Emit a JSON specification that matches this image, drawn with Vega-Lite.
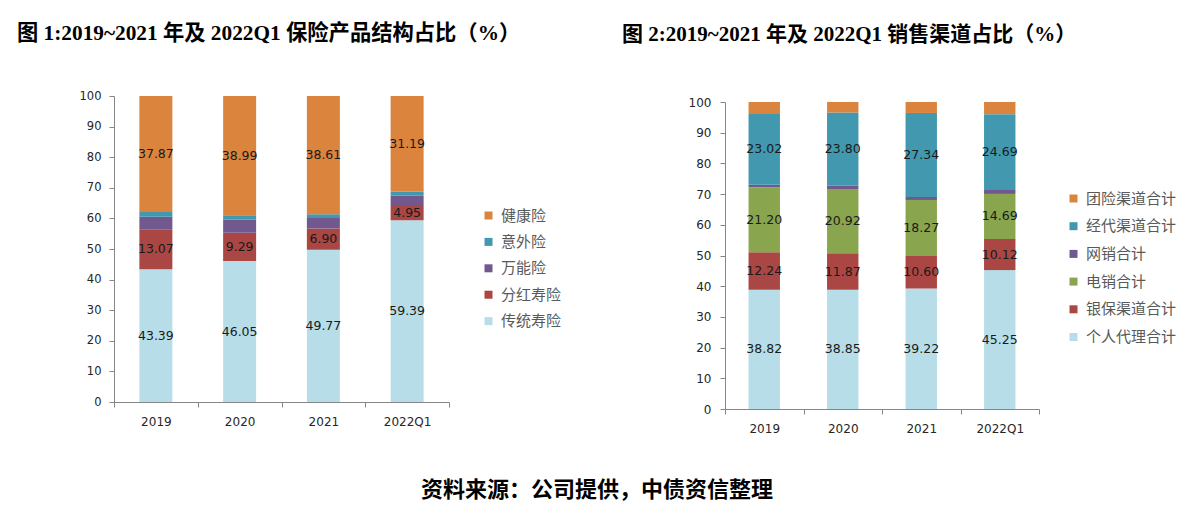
{
  "$schema": "https://vega.github.io/schema/vega-lite/v6.json",
  "padding": {"left": 17, "top": 23, "right": 5, "bottom": 5},
  "bounds": "flush",
  "spacing": 276,
  "config": {
    "view": {"stroke": null},
    "axis": {
      "domainColor": "#868686",
      "tickColor": "#868686",
      "tickSize": 5,
      "grid": false,
      "labelFont": "DejaVu Sans",
      "labelFontSize": 12,
      "labelColor": "#262626",
      "labelOverlap": false,
      "title": null
    },
    "legend": {
      "orient": "none",
      "title": null,
      "symbolType": "square",
      "symbolSize": 64,
      "symbolStrokeWidth": 0,
      "labelFont": "Noto Sans CJK SC",
      "labelFontSize": 15,
      "labelColor": "#595959",
      "labelOffset": 5,
      "padding": 0
    }
  },
  "title": {
    "text": "资料来源：公司提供，中债资信整理",
    "orient": "bottom",
    "anchor": "middle",
    "font": "Noto Sans CJK SC",
    "fontSize": 22,
    "fontWeight": "bold",
    "color": "#000000",
    "offset": 46
  },
  "hconcat": [
    {
      "width": 335,
      "height": 306,
      "title": {
        "text": "图 1:2019~2021 年及 2022Q1 保险产品结构占比（%）",
        "anchor": "start",
        "frame": "group",
        "dx": -97,
        "offset": 45.5,
        "font": "Liberation Serif, Noto Sans CJK SC",
        "fontSize": 21.3,
        "fontWeight": "bold",
        "color": "#000000"
      },
      "data": {
        "values": [
          {"year": "2019", "s": "传统寿险", "v": 43.39},
          {"year": "2019", "s": "分红寿险", "v": 13.07},
          {"year": "2019", "s": "万能险", "v": 4.10},
          {"year": "2019", "s": "意外险", "v": 1.57},
          {"year": "2019", "s": "健康险", "v": 37.87},
          {"year": "2020", "s": "传统寿险", "v": 46.05},
          {"year": "2020", "s": "分红寿险", "v": 9.29},
          {"year": "2020", "s": "万能险", "v": 4.20},
          {"year": "2020", "s": "意外险", "v": 1.47},
          {"year": "2020", "s": "健康险", "v": 38.99},
          {"year": "2021", "s": "传统寿险", "v": 49.77},
          {"year": "2021", "s": "分红寿险", "v": 6.90},
          {"year": "2021", "s": "万能险", "v": 3.45},
          {"year": "2021", "s": "意外险", "v": 1.27},
          {"year": "2021", "s": "健康险", "v": 38.61},
          {"year": "2022Q1", "s": "传统寿险", "v": 59.39},
          {"year": "2022Q1", "s": "分红寿险", "v": 4.95},
          {"year": "2022Q1", "s": "万能险", "v": 3.10},
          {"year": "2022Q1", "s": "意外险", "v": 1.37},
          {"year": "2022Q1", "s": "健康险", "v": 31.19}
        ]
      },
      "transform": [
        {"calculate": "indexof(['传统寿险','分红寿险','万能险','意外险','健康险'], datum.s)", "as": "o"},
        {"stack": "v", "groupby": ["year"], "sort": [{"field": "o", "order": "ascending"}], "as": ["v0", "v1"]},
        {"calculate": "(datum.v0 + datum.v1) / 2", "as": "mid"}
      ],
      "layer": [
        {
          "mark": {"type": "bar", "width": {"band": 0.394}},
          "encoding": {
            "x": {
              "field": "year", "type": "nominal", "sort": null,
              "scale": {"paddingInner": 0, "paddingOuter": 0},
              "axis": {"tickBand": "extent", "labelAngle": 0, "labelPadding": 9}
            },
            "y": {
              "field": "v0", "type": "quantitative",
              "scale": {"domain": [0, 100], "nice": false},
              "axis": {"values": [0, 10, 20, 30, 40, 50, 60, 70, 80, 90, 100], "tickCount": 11, "labelOverlap": false, "labelPadding": 8, "labelFontSize": 11.5}
            },
            "y2": {"field": "v1"},
            "color": {
              "field": "s", "type": "nominal",
              "scale": {
                "domain": ["健康险", "意外险", "万能险", "分红寿险", "传统寿险"],
                "range": ["#DB843D", "#4198AF", "#71588F", "#AA4643", "#B7DEE8"]
              },
              "legend": {"legendX": 367, "legendY": 112, "rowPadding": 10.4}
            }
          }
        },
        {
          "transform": [{"filter": "indexof(['传统寿险','分红寿险','健康险'], datum.s) >= 0"}],
          "mark": {"type": "text", "font": "DejaVu Sans", "fontSize": 12.5, "color": "#1a1a1a"},
          "encoding": {
            "x": {"field": "year", "type": "nominal", "sort": null, "axis": {"tickBand": "extent", "labelAngle": 0, "labelPadding": 9}},
            "y": {"field": "mid", "type": "quantitative",
              "axis": {"values": [0, 10, 20, 30, 40, 50, 60, 70, 80, 90, 100], "tickCount": 11, "labelOverlap": false, "labelPadding": 8, "labelFontSize": 11.5}},
            "text": {"field": "v", "type": "quantitative", "format": ".2f"}
          }
        }
      ]
    },
    {
      "width": 314,
      "height": 313,
      "title": {
        "text": "图 2:2019~2021 年及 2022Q1 销售渠道占比（%）",
        "anchor": "start",
        "frame": "group",
        "dx": -103,
        "offset": 51.5,
        "font": "Liberation Serif, Noto Sans CJK SC",
        "fontSize": 21,
        "fontWeight": "bold",
        "color": "#000000"
      },
      "data": {
        "values": [
          {"year": "2019", "s": "个人代理合计", "v": 38.82},
          {"year": "2019", "s": "银保渠道合计", "v": 12.24},
          {"year": "2019", "s": "电销合计", "v": 21.20},
          {"year": "2019", "s": "网销合计", "v": 0.80},
          {"year": "2019", "s": "经代渠道合计", "v": 23.02},
          {"year": "2019", "s": "团险渠道合计", "v": 3.92},
          {"year": "2020", "s": "个人代理合计", "v": 38.85},
          {"year": "2020", "s": "银保渠道合计", "v": 11.87},
          {"year": "2020", "s": "电销合计", "v": 20.92},
          {"year": "2020", "s": "网销合计", "v": 1.10},
          {"year": "2020", "s": "经代渠道合计", "v": 23.80},
          {"year": "2020", "s": "团险渠道合计", "v": 3.46},
          {"year": "2021", "s": "个人代理合计", "v": 39.22},
          {"year": "2021", "s": "银保渠道合计", "v": 10.60},
          {"year": "2021", "s": "电销合计", "v": 18.27},
          {"year": "2021", "s": "网销合计", "v": 1.00},
          {"year": "2021", "s": "经代渠道合计", "v": 27.34},
          {"year": "2021", "s": "团险渠道合计", "v": 3.57},
          {"year": "2022Q1", "s": "个人代理合计", "v": 45.25},
          {"year": "2022Q1", "s": "银保渠道合计", "v": 10.12},
          {"year": "2022Q1", "s": "电销合计", "v": 14.69},
          {"year": "2022Q1", "s": "网销合计", "v": 1.30},
          {"year": "2022Q1", "s": "经代渠道合计", "v": 24.69},
          {"year": "2022Q1", "s": "团险渠道合计", "v": 3.95}
        ]
      },
      "transform": [
        {"calculate": "indexof(['个人代理合计','银保渠道合计','电销合计','网销合计','经代渠道合计','团险渠道合计'], datum.s)", "as": "o"},
        {"stack": "v", "groupby": ["year"], "sort": [{"field": "o", "order": "ascending"}], "as": ["v0", "v1"]},
        {"calculate": "(datum.v0 + datum.v1) / 2", "as": "mid"}
      ],
      "layer": [
        {
          "mark": {"type": "bar", "width": {"band": 0.4}},
          "encoding": {
            "x": {
              "field": "year", "type": "nominal", "sort": null,
              "scale": {"paddingInner": 0, "paddingOuter": 0},
              "axis": {"tickBand": "extent", "labelAngle": 0, "labelPadding": 9}
            },
            "y": {
              "field": "v0", "type": "quantitative",
              "scale": {"domain": [0, 100], "nice": false, "range": [313, 6]},
              "axis": {"values": [0, 10, 20, 30, 40, 50, 60, 70, 80, 90, 100], "tickCount": 11, "labelOverlap": false, "labelPadding": 9}
            },
            "y2": {"field": "v1"},
            "color": {
              "field": "s", "type": "nominal",
              "scale": {
                "domain": ["团险渠道合计", "经代渠道合计", "网销合计", "电销合计", "银保渠道合计", "个人代理合计"],
                "range": ["#DB843D", "#4198AF", "#71588F", "#89A54E", "#AA4643", "#B7DEE8"]
              },
              "legend": {"legendX": 341, "legendY": 95, "rowPadding": 11.7}
            }
          }
        },
        {
          "transform": [{"filter": "indexof(['个人代理合计','银保渠道合计','电销合计','经代渠道合计'], datum.s) >= 0"}],
          "mark": {"type": "text", "font": "DejaVu Sans", "fontSize": 12.5, "color": "#1a1a1a"},
          "encoding": {
            "x": {"field": "year", "type": "nominal", "sort": null, "axis": {"tickBand": "extent", "labelAngle": 0, "labelPadding": 9}},
            "y": {"field": "mid", "type": "quantitative",
              "axis": {"values": [0, 10, 20, 30, 40, 50, 60, 70, 80, 90, 100], "tickCount": 11, "labelOverlap": false, "labelPadding": 9}},
            "text": {"field": "v", "type": "quantitative", "format": ".2f"}
          }
        }
      ]
    }
  ],
  "resolve": {"scale": {"color": "independent"}}
}
